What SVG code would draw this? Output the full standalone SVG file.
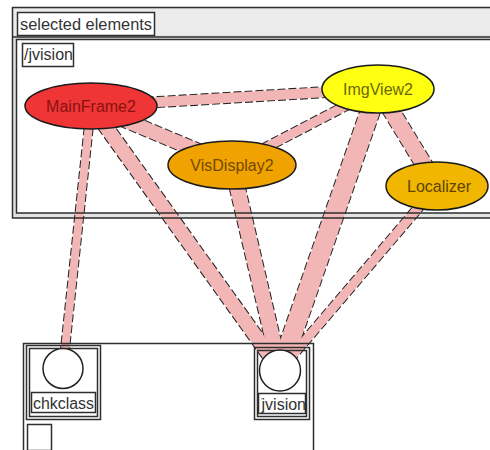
<svg xmlns="http://www.w3.org/2000/svg" width="490" height="450" viewBox="0 0 490 450">
  <defs>
    <style>
      text { font-family: "Liberation Sans", Arial, sans-serif; font-size: 16px; }
      .frame { fill: none; stroke: #2e2e2e; stroke-width: 1.5; }
      .tag { fill: #ffffff; stroke: #2e2e2e; stroke-width: 1.5; }
      .tag-text { fill: #333333; }
      .edge-rim { fill: none; stroke: #222222; stroke-dasharray: 8 3; stroke-linecap: butt; }
      .edge-body { fill: none; stroke: #f3b6b6; stroke-linecap: butt; }
      .node { stroke: #1a1a1a; stroke-width: 1.5; }
      .label { text-anchor: middle; }
      .port { fill: #ffffff; stroke: #222222; stroke-width: 1.5; }
    </style>
    <clipPath id="visionTagClip">
      <rect x="261" y="394" width="44" height="19"/>
    </clipPath>
  </defs>

  <!-- view window backgrounds -->
  <g id="view-window-fill">
    <rect x="12" y="7" width="490" height="211" fill="#e2e2e2"/>
    <rect x="13" y="9" width="490" height="26" fill="#ececec"/>
    <rect x="16" y="39" width="490" height="174" fill="#ffffff"/>
  </g>

  <!-- dependency connectors: dashed rim underneath, pink body on top -->
  <g id="connectors">
    <g class="edge-rim">
      <line x1="91" y1="106" x2="378" y2="89" stroke-width="12"/>
      <line x1="91" y1="106" x2="232" y2="165" stroke-width="16"/>
      <line x1="378" y1="89" x2="232" y2="165" stroke-width="11"/>
      <line x1="378" y1="89" x2="437" y2="186" stroke-width="18"/>
      <line x1="91" y1="106" x2="63" y2="368" stroke-width="10"/>
      <line x1="91" y1="106" x2="280" y2="370" stroke-width="16"/>
      <line x1="232" y1="165" x2="280" y2="370" stroke-width="17"/>
      <line x1="378" y1="89" x2="280" y2="370" stroke-width="21"/>
      <line x1="437" y1="186" x2="280" y2="370" stroke-width="11"/>
    </g>
    <g class="edge-body">
      <line x1="91" y1="106" x2="378" y2="89" stroke-width="10"/>
      <line x1="91" y1="106" x2="232" y2="165" stroke-width="14"/>
      <line x1="378" y1="89" x2="232" y2="165" stroke-width="9"/>
      <line x1="378" y1="89" x2="437" y2="186" stroke-width="16"/>
      <line x1="91" y1="106" x2="63" y2="368" stroke-width="8"/>
      <line x1="91" y1="106" x2="280" y2="370" stroke-width="14"/>
      <line x1="232" y1="165" x2="280" y2="370" stroke-width="15"/>
      <line x1="378" y1="89" x2="280" y2="370" stroke-width="19"/>
      <line x1="437" y1="186" x2="280" y2="370" stroke-width="9"/>
    </g>
  </g>

  <!-- view window borders and captions -->
  <g id="view-window">
    <rect class="frame" x="12.5" y="7.5" width="490" height="210.5" stroke-width="2"/>
    <line class="frame" x1="13" y1="37" x2="490" y2="37"/>
    <rect class="frame" x="16.5" y="39.5" width="490" height="173.5"/>
    <rect class="tag" x="17.5" y="12.5" width="137" height="23" fill="#f6f6f6"/>
    <text class="tag-text" x="20" y="30" textLength="132" lengthAdjust="spacingAndGlyphs">selected elements</text>
    <rect class="tag" x="22.5" y="43.5" width="51" height="23"/>
    <text class="tag-text" x="24" y="60" textLength="49" lengthAdjust="spacingAndGlyphs">/jvision</text>
  </g>

  <g id="node-MainFrame2">
    <ellipse class="node" cx="91" cy="106" rx="66" ry="23" fill="#ef3535"/>
    <text class="label" x="91" y="112" fill="#8a1212">MainFrame2</text>
  </g>

  <g id="node-ImgView2">
    <ellipse class="node" cx="378" cy="89" rx="56" ry="24" fill="#ffff12"/>
    <text class="label" x="378" y="95" fill="#6a6a00">ImgView2</text>
  </g>

  <g id="node-VisDisplay2">
    <ellipse class="node" cx="232" cy="165" rx="64" ry="24" fill="#f0a300"/>
    <text class="label" x="232" y="171" fill="#754800">VisDisplay2</text>
  </g>

  <g id="node-Localizer">
    <ellipse class="node" cx="437" cy="186" rx="51" ry="24" fill="#f1b700"/>
    <text class="label" x="439" y="192" fill="#5e4200">Localizer</text>
  </g>

  <!-- package view -->
  <g id="package-view">
    <rect class="frame" x="23.5" y="343.5" width="290" height="120"/>
    <rect class="frame" x="27.5" y="424.5" width="24" height="26"/>
  </g>

  <g id="package-chkclass">
    <rect class="frame" x="26.5" y="345.5" width="74" height="74"/>
    <rect class="frame" x="29.5" y="348.5" width="68" height="68" stroke-width="1"/>
    <circle class="port" cx="63" cy="368.5" r="20"/>
    <rect class="tag" x="31.5" y="392.5" width="64" height="20"/>
    <text class="tag-text" x="63.5" y="409" text-anchor="middle" textLength="61" lengthAdjust="spacingAndGlyphs">chkclass</text>
  </g>

  <g id="package-jvision">
    <rect class="frame" x="254.5" y="347.5" width="55" height="72"/>
    <rect class="frame" x="257.5" y="350.5" width="49" height="66" stroke-width="1"/>
    <circle class="port" cx="280" cy="370.5" r="20.5"/>
    <rect class="tag" x="258.5" y="393.5" width="47" height="20"/>
    <text class="tag-text" x="306" y="410" text-anchor="end" clip-path="url(#visionTagClip)">/jvision</text>
  </g>
</svg>
